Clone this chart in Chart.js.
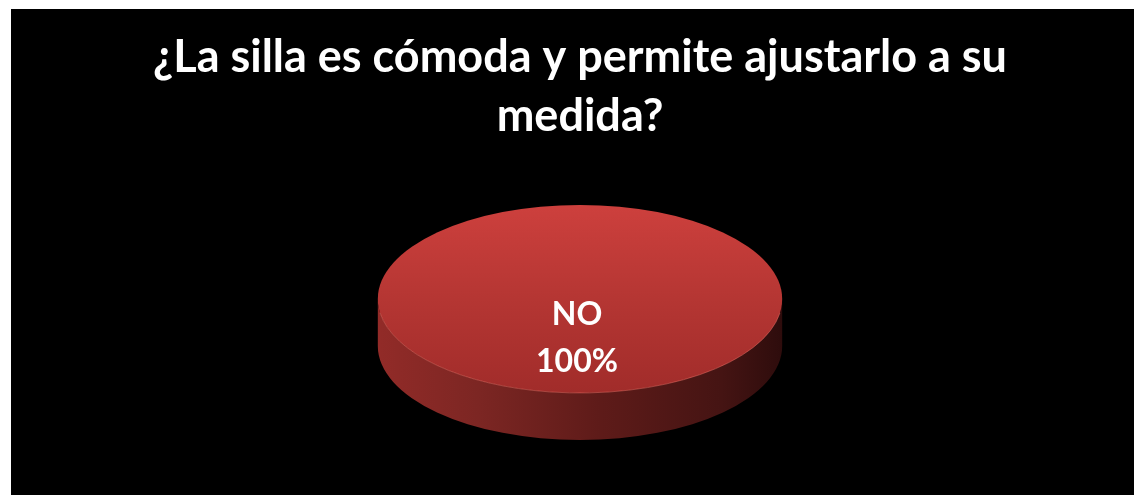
<!DOCTYPE html>
<html><head><meta charset="utf-8">
<script src="https://cdn.jsdelivr.net/npm/chart.js@4"></script>
<style>
html,body{margin:0;padding:0;background:#fff;width:1134px;height:495px;overflow:hidden}
#wrap{position:absolute;left:11px;top:9px;width:1123px;height:486px;background:#000}
</style></head><body>
<div id="wrap"><canvas id="c" width="1123" height="486"></canvas></div>
<script>
const titleLines = ['¿La silla es cómoda y permite ajustarlo a su', 'medida?'];
const categories = ['NO'];
const values = [100];
const colors = ['#c0393a'];

const pie3d = {
  id: 'pie3d',
  beforeDatasetsDraw(chart) {
    const ctx = chart.ctx;
    const meta = chart.getDatasetMeta(0);
    meta.data.forEach((arc) => {
      const p = arc.getProps(['x','y','outerRadius','startAngle','endAngle'], true);
      const R = p.outerRadius;
      const rx = R * 1.72, ry = R * 0.80, depth = R * 0.40;
      const cx = p.x, cy = p.y - depth / 2;
      ctx.save();
      const sg = ctx.createLinearGradient(cx - rx, 0, cx + rx, 0);
      sg.addColorStop(0, '#922b28');
      sg.addColorStop(0.25, '#7c2623');
      sg.addColorStop(0.55, '#5e1b19');
      sg.addColorStop(0.85, '#451413');
      sg.addColorStop(1, '#2e0c0c');
      ctx.beginPath();
      ctx.ellipse(cx, cy, rx, ry, 0, 0, Math.PI, false);
      ctx.lineTo(cx - rx, cy + depth);
      ctx.ellipse(cx, cy + depth, rx, ry, 0, Math.PI, 0, true);
      ctx.closePath();
      ctx.fillStyle = sg;
      ctx.fill();
      const tg = ctx.createLinearGradient(0, cy - ry, 0, cy + ry);
      tg.addColorStop(0, '#cd403d');
      tg.addColorStop(0.5, '#b53633');
      tg.addColorStop(1, '#a12c2a');
      ctx.beginPath();
      ctx.ellipse(cx, cy, rx, ry, 0, p.startAngle, p.endAngle, false);
      if (p.endAngle - p.startAngle < Math.PI * 2 - 1e-6) ctx.lineTo(cx, cy);
      ctx.closePath();
      ctx.fillStyle = tg;
      ctx.fill();
      ctx.strokeStyle = 'rgba(230,110,100,0.5)';
      ctx.lineWidth = 1;
      ctx.beginPath();
      ctx.ellipse(cx, cy, rx, ry, 0, 0.15, Math.PI - 0.15, false);
      ctx.stroke();
      ctx.restore();
    });
    return false;
  },
  afterDraw(chart) {
    const ctx = chart.ctx;
    const meta = chart.getDatasetMeta(0);
    const data = chart.data.datasets[0].data;
    const total = data.reduce((a, b) => a + b, 0);
    meta.data.forEach((arc, i) => {
      const p = arc.getProps(['x','y','outerRadius'], true);
      const R = p.outerRadius;
      const depth = R * 0.40;
      const cx = p.x - 3, cy = p.y - depth / 2;
      ctx.save();
      ctx.fillStyle = '#fff';
      ctx.font = 'bold 32px Lato, "Open Sans", sans-serif';
      ctx.textAlign = 'center';
      ctx.textBaseline = 'alphabetic';
      ctx.fillText(chart.data.labels[i], cx, cy + R * 0.22);
      ctx.fillText(Math.round(data[i] / total * 100) + '%', cx, cy + R * 0.62);
      ctx.restore();
    });
  }
};

new Chart(document.getElementById('c'), {
  type: 'pie',
  data: { labels: categories, datasets: [{ data: values, backgroundColor: colors, borderWidth: 0 }] },
  options: {
    responsive: false,
    animation: false,
    layout: { padding: { left: 15, right: 0, top: 0, bottom: 55 } },
    plugins: {
      legend: { display: false },
      tooltip: { enabled: false },
      title: {
        display: true,
        text: titleLines,
        color: '#fff',
        font: { family: 'Lato, "Open Sans", sans-serif', size: 45, weight: 'bold', lineHeight: 1.31 },
        padding: { top: 19, bottom: 59 }
      }
    }
  },
  plugins: [pie3d]
});
</script>
</body></html>
